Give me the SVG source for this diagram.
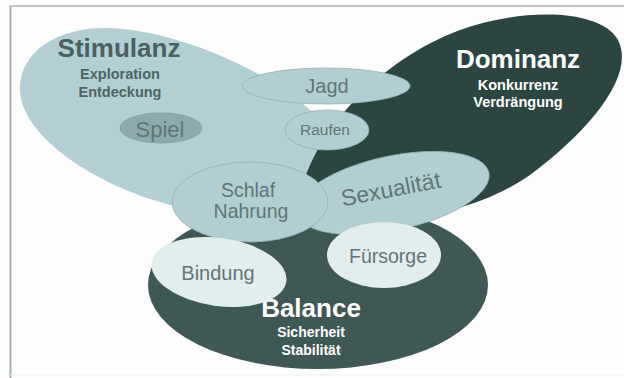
<svg xmlns="http://www.w3.org/2000/svg" width="624" height="378" viewBox="0 0 624 378">
<style>
.lbl{font-family:"Liberation Sans",Arial,sans-serif;fill:#627577;text-anchor:middle}
.hd{font-family:"Liberation Sans",Arial,sans-serif;font-weight:bold;text-anchor:middle}
.light{fill:#b4cfd3}
.mid{fill:#b3ced2;stroke:#93b0b4;stroke-width:0.8}
.pale{fill:#e2eeee}
</style>
<rect x="0" y="0" width="624" height="378" fill="#fdfdfd"/>
<g id="frame" fill="none">
<line x1="10.5" y1="6" x2="10.5" y2="378" stroke="#9fb0ad" stroke-width="2"/>
<line x1="10" y1="6" x2="624" y2="6" stroke="#8a8f8e" stroke-width="1.2"/>
<line x1="10" y1="375" x2="624" y2="375" stroke="#eef1f0" stroke-width="1"/>
</g>
<g id="stimulanz">
<path class="light" d="M20,92 C18,50 60,26 110,28 C170,30 260,65 310,110 C345,142 350,180 320,200 C290,220 200,215 160,202 C100,185 24,140 20,92 Z"/>
<text class="hd" x="119" y="57" font-size="26" fill="#4a6063">Stimulanz</text>
<text class="hd" x="120" y="79" font-size="14.5" fill="#4f6467">Exploration</text>
<text class="hd" x="120" y="97" font-size="14.5" fill="#4f6467">Entdeckung</text>
</g>
<g id="dominanz">
<path fill="#2d4541" d="M300,195 C315,130 380,60 460,30 C520,8 600,8 618,40 C636,75 590,130 530,175 C490,203 440,216 395,218 C340,220 292,220 300,195 Z"/>
<text class="hd" x="518" y="68" font-size="26" fill="#ffffff">Dominanz</text>
<text class="hd" x="518" y="90" font-size="14.5" fill="#ffffff">Konkurrenz</text>
<text class="hd" x="518" y="107" font-size="14.5" fill="#ffffff">Verdrängung</text>
</g>
<g id="balance">
<ellipse cx="318" cy="285" rx="170" ry="84" fill="#3f5855"/>
<text class="hd" x="311" y="317" font-size="26" fill="#ffffff">Balance</text>
<text class="hd" x="311" y="337" font-size="14" fill="#ffffff">Sicherheit</text>
<text class="hd" x="311" y="355" font-size="14" fill="#ffffff">Stabilität</text>
</g>
<g id="spiel">
<ellipse cx="161" cy="128" rx="41" ry="15" fill="#8faaaf" stroke="#7f9a9f" stroke-width="0.8"/>
<text class="lbl" x="160" y="137" font-size="22" fill="#5e7274">Spiel</text>
</g>
<g id="jagd">
<ellipse cx="326" cy="86" rx="84" ry="18" class="mid"/>
<text class="lbl" x="327" y="93" font-size="20">Jagd</text>
</g>
<g id="raufen">
<ellipse cx="327" cy="130" rx="42" ry="20" class="mid"/>
<text class="lbl" x="325" y="135" font-size="15.5">Raufen</text>
</g>
<g id="sexualitaet">
<ellipse cx="393" cy="193" rx="98" ry="37" class="mid" transform="rotate(-12 393 193)"/>
<text class="lbl" x="391" y="197" font-size="23" transform="rotate(-11 391 190)">Sexualität</text>
</g>
<g id="schlaf">
<ellipse cx="250" cy="202" rx="78" ry="40" class="mid" fill="#a9c5c9"/>
<text class="lbl" x="248" y="197" font-size="19.5">Schlaf</text>
<text class="lbl" x="251" y="218" font-size="19.5">Nahrung</text>
</g>
<g id="bindung">
<ellipse cx="219" cy="272" rx="68" ry="34" class="pale" transform="rotate(8 219 272)"/>
<text class="lbl" x="218" y="280" font-size="20">Bindung</text>
</g>
<g id="fuersorge">
<ellipse cx="384" cy="255" rx="57" ry="33" class="pale"/>
<text class="lbl" x="388" y="263" font-size="19.5">Fürsorge</text>
</g>
<g id="connectors"/>
</svg>
